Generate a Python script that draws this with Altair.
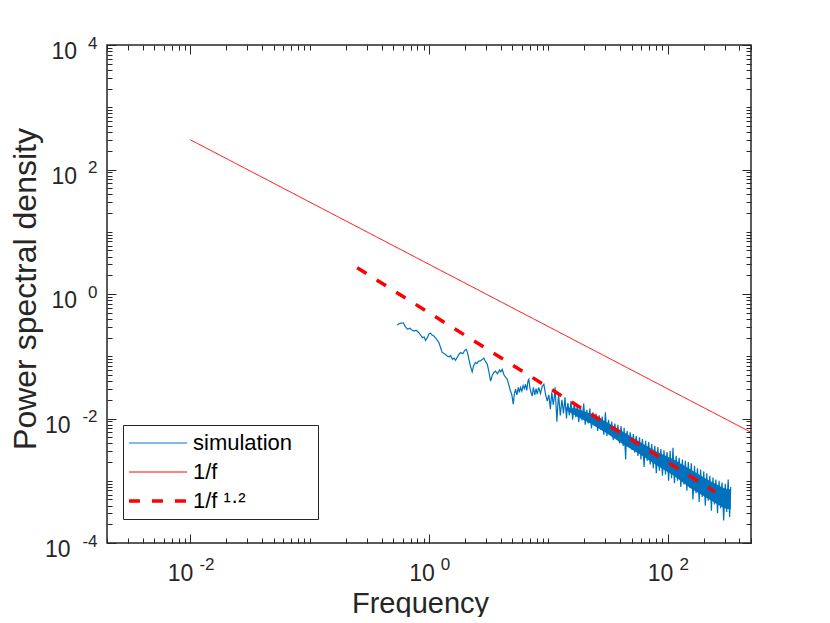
import altair as alt
import pandas as pd

# ---------------- data ----------------
series_names = ["simulation", "1/f", "1/f^1.2"]
series_labels = ["simulation\u00a0\u00a0\u00a0\u200b", "1/f", "1/f \u00b9\u00b7\u00b2"]
series_colors = ["#0072BD", "#FF0000", "#FF0000"]
series_dash = [[1, 0], [1, 0], [11, 12]]
series_width = [1.2, 1, 3.5]

# simulated PSD: frequency and log10(PSD)
sim_freq = [
    0.54, 0.57, 0.61, 0.63, 0.66, 0.69, 0.72, 0.75, 0.78, 0.82, 0.85, 0.88, 0.91, 0.935, 0.97,
    1.0, 1.03, 1.06, 1.10, 1.15, 1.21, 1.25, 1.29, 1.35, 1.42, 1.48, 1.52, 1.57, 1.62, 1.67,
    1.72, 1.78, 1.84, 1.92, 2.0, 2.06, 2.12, 2.16, 2.22, 2.30, 2.36, 2.45, 2.52, 2.60, 2.70,
    2.80, 2.88, 2.95, 3.08, 3.18, 3.28, 3.40, 3.50, 3.61, 3.75, 3.90, 4.00, 4.11, 4.25, 4.40,
    4.53, 4.65, 4.82, 4.95, 5.08, 5.20, 5.31, 5.45, 5.60, 5.72, 5.85, 6.00, 6.15, 6.30, 6.44,
    6.60, 6.75, 6.87, 7.00, 7.15, 7.33, 7.50, 7.70, 7.90, 8.07, 8.30, 8.60, 8.90, 9.18, 9.50,
    9.80, 10.1, 10.4, 10.7, 11.0, 11.4, 11.8, 12.2, 12.6, 13.0, 13.4, 13.8, 14.2, 14.6, 15.0,
    15.5, 16.0, 16.5, 17.0, 17.5, 18.0, 18.6, 19.2, 19.8, 20.4, 21.0, 21.6, 22.3, 23.0, 23.7,
    24.4, 25.1, 25.9, 26.7, 27.5, 28.3, 29.2, 30.1, 31.0, 32.0, 33.0, 34.0, 35.0, 36.1, 37.2,
    38.3, 39.5, 40.7, 41.9, 43.2, 44.5, 45.8, 47.2, 48.6, 50.1, 51.6, 53.1, 54.7, 56.4, 58.1,
    59.8, 61.6, 63.5, 65.4, 67.4, 69.4, 71.5, 73.6, 75.8, 78.1, 80.4, 82.8, 85.3, 87.9, 90.5,
    93.2, 96.0, 98.9, 101.9, 105, 108, 111, 114, 118, 121, 125, 129, 133, 137, 141,
    145, 149, 154, 158, 163, 168, 173, 178, 184, 189, 195, 201, 207, 213, 219,
    226, 233, 240, 247, 254, 262, 270, 278, 286, 295, 304, 313, 322, 331, 338,
    # in-between samples of the dense band
    10.25, 11.2, 12.0, 13.2, 14.4, 15.25, 16.25, 17.25, 18.3, 19.5, 20.7, 22.0, 23.35, 24.75,
    26.3, 27.9, 29.6, 31.5, 33.5, 35.5, 37.7, 40.1, 42.5, 45.1, 47.9, 50.8, 53.9, 57.2, 60.7,
    64.4, 68.4, 72.5, 76.9, 81.6, 86.6, 91.8, 97.4, 103.4, 109.5, 116, 123, 131, 139, 147,
    156, 166, 175, 186, 198, 210, 222, 236, 250, 266, 282, 300, 317, 335,
]
sim_log_psd = [
    -0.50, -0.47, -0.465, -0.52, -0.565, -0.55, -0.58, -0.595, -0.58, -0.62, -0.66, -0.70, -0.69, -0.745, -0.70,
    -0.64, -0.63, -0.66, -0.675, -0.72, -0.78, -0.86, -0.94, -0.96, -0.995, -1.01, -0.99, -1.05, -1.03, -1.065,
    -1.02, -0.97, -0.94, -0.96, -0.90, -0.89, -0.97, -1.05, -1.15, -1.25, -1.16, -1.10, -1.12, -1.08, -1.075,
    -1.05, -1.03, -1.07, -1.13, -1.25, -1.40, -1.30, -1.26, -1.24, -1.28, -1.22, -1.25, -1.21, -1.30, -1.34,
    -1.37, -1.45, -1.56, -1.62, -1.77, -1.60, -1.53, -1.62, -1.50, -1.58, -1.50, -1.56, -1.47, -1.52, -1.45,
    -1.55, -1.40, -1.37, -1.50, -1.58, -1.64, -1.50, -1.62, -1.52, -1.61, -1.50, -1.60, -1.48, -1.45, -1.62,
    -1.72, -1.62, -1.85, -1.58, -1.78, -1.50, -2.05, -1.62, -1.95, -1.70, -1.92, -1.66, -2.00, -1.75, -1.95,
    -1.72, -2.02, -1.74, -1.98, -1.78, -2.06, -1.80, -2.03, -1.76, -2.10, -1.86, -2.08, -1.84, -2.16, -1.90,
    -2.12, -1.92, -2.20, -1.95, -2.18, -1.97, -2.26, -1.90, -2.28, -2.02, -2.25, -2.05, -2.35, -2.08, -2.30,
    -2.10, -2.40, -2.12, -2.36, -2.15, -2.66, -2.20, -2.45, -2.22, -2.50, -2.25, -2.55, -2.28, -2.60, -2.30,
    -2.66, -2.33, -2.78, -2.36, -2.68, -2.38, -2.74, -2.41, -2.80, -2.44, -2.88, -2.46, -2.84, -2.49, -2.92,
    -2.51, -2.90, -2.54, -3.00, -2.52, -2.96, -2.47, -3.04, -2.60, -3.00, -2.63, -3.10, -2.66, -3.06, -2.68,
    -3.16, -2.70, -3.12, -2.72, -3.30, -2.76, -3.20, -2.80, -3.34, -2.82, -3.26, -2.85, -3.40, -2.88, -3.32,
    -2.92, -3.48, -2.95, -3.38, -2.98, -3.52, -3.00, -3.44, -3.03, -3.64, -3.05, -3.50, -2.98, -3.58, -3.10,
    # in-between samples of the dense band
    -1.72, -1.68, -1.80, -1.80, -1.85, -1.84, -1.88, -1.90, -1.92, -1.90, -1.98, -1.96, -2.02, -2.04,
    -2.08, -2.06, -2.12, -2.14, -2.16, -2.20, -2.22, -2.28, -2.44, -2.30, -2.36, -2.40, -2.35, -2.50, -2.42,
    -2.55, -2.50, -2.62, -2.56, -2.70, -2.62, -2.72, -2.66, -2.80, -2.70, -2.84, -2.76, -2.90, -2.82, -2.95,
    -2.88, -3.05, -2.96, -3.10, -3.02, -3.14, -3.06, -3.20, -3.12, -3.26, -3.18, -3.32, -3.22, -3.30,
]

# solid core of the dense part of the simulation trace (log10 PSD)
core_freq = [14, 17, 22.6, 31, 43, 59, 82, 113, 156, 215, 297, 338]
core_upper = [-1.82, -1.84, -1.92, -2.06, -2.22, -2.38, -2.54, -2.66, -2.82, -2.98, -3.12, -3.14]
core_lower = [-1.86, -1.96, -2.08, -2.24, -2.42, -2.58, -2.76, -2.92, -3.12, -3.28, -3.44, -3.46]

# reference lines: 3/f and 0.5/f^1.2
inv_f_freq = [0.01, 500]
inv_f_psd = [300, 0.006]
inv_f12_freq = [0.25, 250]
inv_f12_psd = [2.64, 0.000663]

x_domain = [0.002, 500]
y_domain = [1e-4, 1e4]

# tick positions (1..9 x 10^n inside the domains)
x_ticks = [k * 10.0 ** n for n in range(-3, 3) for k in range(1, 10)
           if x_domain[0] * 0.999 <= k * 10.0 ** n <= x_domain[1] * 1.001]
y_ticks = [k * 10.0 ** n for n in range(-4, 5) for k in range(1, 10)
           if y_domain[0] * 0.999 <= k * 10.0 ** n <= y_domain[1] * 1.001]

# ---------------- frames ----------------
sim_df = pd.DataFrame({"f": sim_freq, "p": [10 ** v for v in sim_log_psd],
                       "series": series_names[0]}).sort_values("f")
core_df = pd.DataFrame({"f": core_freq, "hi": [10 ** v for v in core_upper],
                        "lo": [10 ** v for v in core_lower]})
f1_df = pd.DataFrame({"f": inv_f_freq, "p": inv_f_psd, "series": series_names[1]})
f12_df = pd.DataFrame({"f": inv_f12_freq, "p": inv_f12_psd, "series": series_names[2]})

W, H = 644, 498
FONT = "Liberation Sans"
TXT = "#262626"
LOG = "(log(datum.value)/LN10)"
MAJOR = f"(abs({LOG} - round({LOG})) < 1e-6 && round({LOG}) % 2 == 0)"
NEG = "(datum.value < 0.5)"

xs = alt.Scale(type="log", domain=x_domain, nice=False)
ys = alt.Scale(type="log", domain=y_domain, nice=False)

common = dict(values=x_ticks, grid=False, domain=False, labelFont=FONT, labelColor=TXT,
              labelOverlap=False, labelFlush=False, labelBound=False)
commony = dict(values=y_ticks, grid=False, domain=False, labelFont=FONT, labelColor=TXT,
               labelOverlap=False, labelBound=False)

ax_x_main = alt.Axis(orient="bottom", ticks=False, tickSize=0, labelExpr=f"{MAJOR} ? '10' : ''",
                     labelFontSize=23, labelAlign="right", labelBaseline="alphabetic",
                     labelPadding=37,
                     labelOffset={"condition": {"test": NEG, "value": 2.5}, "value": 5.3},
                     title="Frequency", titleFont=FONT, titleFontSize=29, titleFontWeight="normal",
                     titleColor=TXT, titleBaseline="alphabetic", titleAlign="center",
                     titleX=313, titleY=69, **common)
ax_x_exp = alt.Axis(orient="bottom", ticks=False, tickSize=0,
                    labelExpr=f"{MAJOR} ? '' + round({LOG}) : ''",
                    labelFontSize=17, labelAlign="left", labelBaseline="alphabetic",
                    labelPadding=26.5,
                    labelOffset={"condition": {"test": NEG, "value": 8.5}, "value": 11.3},
                    title=None, **common)
tick_style = dict(ticks=True, labels=False, title=None, tickColor=TXT, tickWidth=1,
                  tickSize={"condition": {"test": MAJOR, "value": 9}, "value": 5})
ax_x_in_bottom = alt.Axis(orient="top", offset=-H, **tick_style, **common)
ax_x_in_top = alt.Axis(orient="bottom", offset=-H, **tick_style, **common)

ax_y_main = alt.Axis(orient="left", ticks=False, tickSize=0, labelExpr=f"{MAJOR} ? '10' : ''",
                     labelFontSize=23, labelAlign="right", labelBaseline="alphabetic",
                     labelOffset=13.5,
                     labelPadding={"condition": {"test": NEG, "value": 37}, "value": 30.5},
                     title="Power spectral density", titleFont=FONT, titleFontSize=32,
                     titleFontWeight="normal", titleColor=TXT, titleBaseline="alphabetic",
                     titleX=-72, titleY=243.5, **commony)
ax_y_exp = alt.Axis(orient="left", ticks=False, tickSize=0,
                    labelExpr=f"{MAJOR} ? '' + round({LOG}) : ''",
                    labelFontSize=17, labelAlign="right", labelBaseline="alphabetic",
                    labelOffset=3, labelPadding=10, title=None, **commony)
ax_y_in_left = alt.Axis(orient="right", offset=-W, **tick_style, **commony)
ax_y_in_right = alt.Axis(orient="left", offset=-W, **tick_style, **commony)

label_map = " : ".join(
    f"datum.label == '{n}' ? '{l}'" for n, l in zip(series_names, series_labels)) + " : datum.label"
width_map = "datum.value == '1/f^1.2' ? 3.5 : 1"
leg = alt.Legend(orient="none", legendX=16, legendY=380, title=None, padding=7,
                 strokeColor=TXT, fillColor="white", labelFont=FONT, labelFontSize=22,
                 labelColor="black", symbolType="M-5,0H5", symbolSize=135, rowPadding=7,
                 symbolOffset=17, labelOffset=24, labelExpr=label_map,
                 symbolStrokeWidth={"expr": width_map})

color = alt.Color("series:N", scale=alt.Scale(domain=series_names, range=series_colors),
                  legend=leg)
dash = alt.StrokeDash("series:N", scale=alt.Scale(domain=series_names, range=series_dash),
                      legend=leg)

core = alt.Chart(core_df).mark_area(clip=True, color=series_colors[0]).encode(
    x=alt.X("f:Q", scale=xs, axis=None),
    y=alt.Y("lo:Q", scale=ys, axis=None),
    y2="hi:Q")
sim = alt.Chart(sim_df).mark_line(clip=True, strokeWidth=series_width[0]).encode(
    x=alt.X("f:Q", scale=xs, axis=ax_x_main),
    y=alt.Y("p:Q", scale=ys, axis=ax_y_main),
    color=color, strokeDash=dash)
f1 = alt.Chart(f1_df).mark_line(clip=True, strokeWidth=series_width[1]).encode(
    x=alt.X("f:Q", scale=xs, axis=ax_x_exp),
    y=alt.Y("p:Q", scale=ys, axis=ax_y_exp),
    color=color, strokeDash=dash)
f12 = alt.Chart(f12_df).mark_line(clip=True, strokeCap="butt",
                                  strokeWidth=series_width[2]).encode(
    x=alt.X("f:Q", scale=xs, axis=ax_x_in_bottom),
    y=alt.Y("p:Q", scale=ys, axis=ax_y_in_left),
    color=color, strokeDash=dash)
ghost = alt.Chart(f1_df).mark_line(opacity=0, clip=True).encode(
    x=alt.X("f:Q", scale=xs, axis=ax_x_in_top),
    y=alt.Y("p:Q", scale=ys, axis=ax_y_in_right))

chart = alt.layer(core, sim, f1, f12, ghost).resolve_axis(
    x="independent", y="independent"
).properties(
    width=W, height=H,
    autosize=alt.AutoSizeParams(type="none"),
    padding={"left": 99, "top": 37, "right": 60, "bottom": 74},
    background="white",
).configure_view(stroke=TXT, strokeWidth=1.5)

chart.save("out.html", embed_options={"renderer": "svg", "actions": False})
